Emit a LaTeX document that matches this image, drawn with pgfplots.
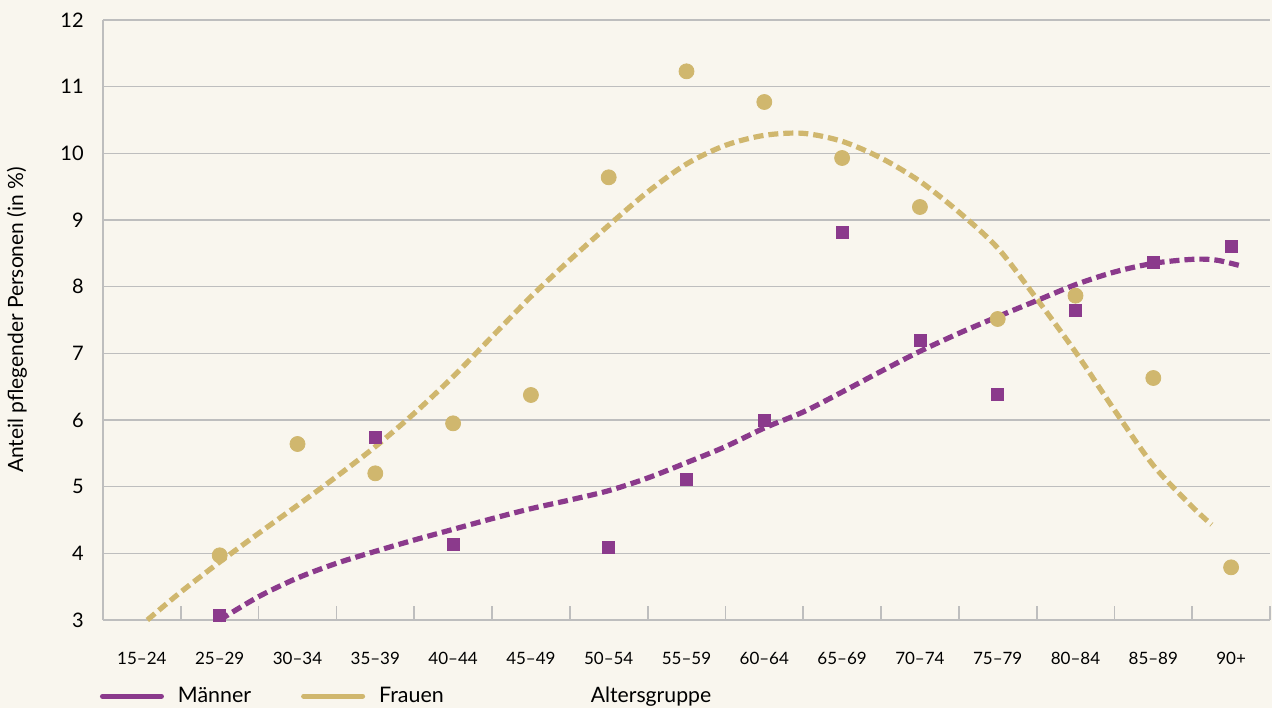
\documentclass[border=0pt]{standalone}
\usepackage{pgfplots}
\pgfplotsset{compat=1.18}
\usepackage{fontspec}
\setmainfont{Lato}
\definecolor{bg}{HTML}{F9F6EE}
\definecolor{lila}{HTML}{8B3A8C}
\definecolor{gold}{HTML}{D0B76E}
\definecolor{gridc}{HTML}{BEBEBE}
\begin{document}
\begin{tikzpicture}
\fill[bg] (-51.5bp,-44bp) rectangle (584.5bp,310bp);
\begin{axis}[
 scale only axis, width=583.5bp, height=300bp, at={(0,0)}, anchor=south west,
 xmin=-0.5, xmax=14.5, ymin=3, ymax=12,
 clip=false,
 axis x line*=bottom, axis y line*=left,
 axis line style={draw=gridc, line width=0.9bp, -},
 xtick={0,...,14},
 xticklabels={15–24,25–29,30–34,35–39,40–44,45–49,50–54,55–59,60–64,65–69,70–74,75–79,80–84,85–89,90+},
 minor xtick={0.5,1.5,...,14.5},
 xtick align=inside,
 major tick length=0pt, minor tick length=7bp,
 minor tick style={draw=gridc, line width=0.9bp},
 major tick style={draw=none},
 ytick={3,...,12},
 ymajorgrids, grid style={draw=gridc, line width=0.75bp},
 /pgf/number format/assume math mode=true,
 yticklabel style={font=\fontsize{10bp}{12bp}\selectfont, anchor=east, inner sep=0pt, xshift=-9.5bp},
 xticklabel style={font=\fontsize{8.5bp}{10bp}\selectfont, anchor=base, inner sep=0pt, yshift=-22bp},
 ylabel={Anteil pflegender Personen (in \%)},
 ylabel style={font=\fontsize{10.5bp}{12bp}\selectfont, at={(axis description cs:-0.0737,0.5)}, anchor=center},
 xlabel={Altersgruppe},
 xlabel style={font=\fontsize{10.6bp}{12bp}\selectfont, at={(axis description cs:0.4696,-0.1367)}, anchor=base, inner sep=0pt},
 legend style={at={(axis description cs:-0.0026,-0.127)}, anchor=west,
   draw=none, fill=none, inner sep=0pt, outer sep=0pt,
   legend columns=-1,
   font=\fontsize{10.7bp}{12bp}\selectfont,
   /tikz/every odd column/.append style={column sep=7bp},
   /tikz/every even column/.append style={column sep=25bp},
   nodes={inner sep=0pt}},
 legend cell align=left,
 legend image code/.code={\draw[#1] (0bp,0bp) -- (29.5bp,0bp);},
]
% scatter points
\addplot[only marks, mark=*, mark size=3.75bp, color=gold, mark options={draw=none, fill=gold}, forget plot] coordinates {
 (1,3.97) (2,5.64) (3,5.2) (4,5.95) (5,6.375) (6,9.64) (7,11.23) (8,10.77) (9,9.93) (10,9.195) (11,7.515) (12,7.865) (13,6.63) (14,3.79)
};
\addplot[only marks, mark=square*, mark size=3bp, color=lila, mark options={draw=none, fill=lila}, forget plot] coordinates {
 (1,3.07) (3,5.745) (4,4.14) (6,4.09) (7,5.115) (8,5.99) (9,8.81) (10,7.19) (11,6.39) (12,7.65) (13,8.36) (14,8.61)
};
% trend lines
\addplot[gold, line width=2.6bp, dash pattern=on 5bp off 2.5bp, smooth, forget plot] coordinates {
 (0.07,3.0) (0.5,3.42) (1,3.87) (1.5,4.3) (2,4.72) (2.5,5.15) (3,5.6) (3.5,6.1) (4,6.65) (4.5,7.25) (5,7.85) (5.5,8.4) (6,8.92) (6.5,9.42) (7,9.84) (7.5,10.12) (8,10.27) (8.5,10.3) (9,10.18) (9.5,9.93) (10,9.58) (10.5,9.12) (11,8.58) (11.5,7.82) (12,7.02) (12.5,6.15) (13,5.32) (13.5,4.7) (13.75,4.43)
};
\addplot[lila, line width=2.6bp, dash pattern=on 5bp off 2.5bp, smooth, forget plot] coordinates {
 (1,3.0) (1.5,3.35) (2,3.63) (2.5,3.85) (3,4.03) (3.5,4.2) (4,4.36) (4.5,4.52) (5,4.67) (5.5,4.8) (6,4.94) (6.5,5.13) (7,5.36) (7.5,5.6) (8,5.88) (8.5,6.12) (9,6.42) (9.5,6.73) (10,7.03) (10.5,7.3) (11,7.55) (11.5,7.79) (12,8.03) (12.5,8.22) (13,8.35) (13.5,8.41) (13.8,8.4) (14.1,8.32)
};
\addlegendimage{lila, line width=2.5bp, line cap=round}
\addlegendentry{Männer}
\addlegendimage{gold, line width=2.5bp, line cap=round}
\addlegendentry{Frauen}
\end{axis}
\pgfresetboundingbox
\path (-51.5bp,-44bp) rectangle (584.5bp,310bp);
\end{tikzpicture}
\end{document}
